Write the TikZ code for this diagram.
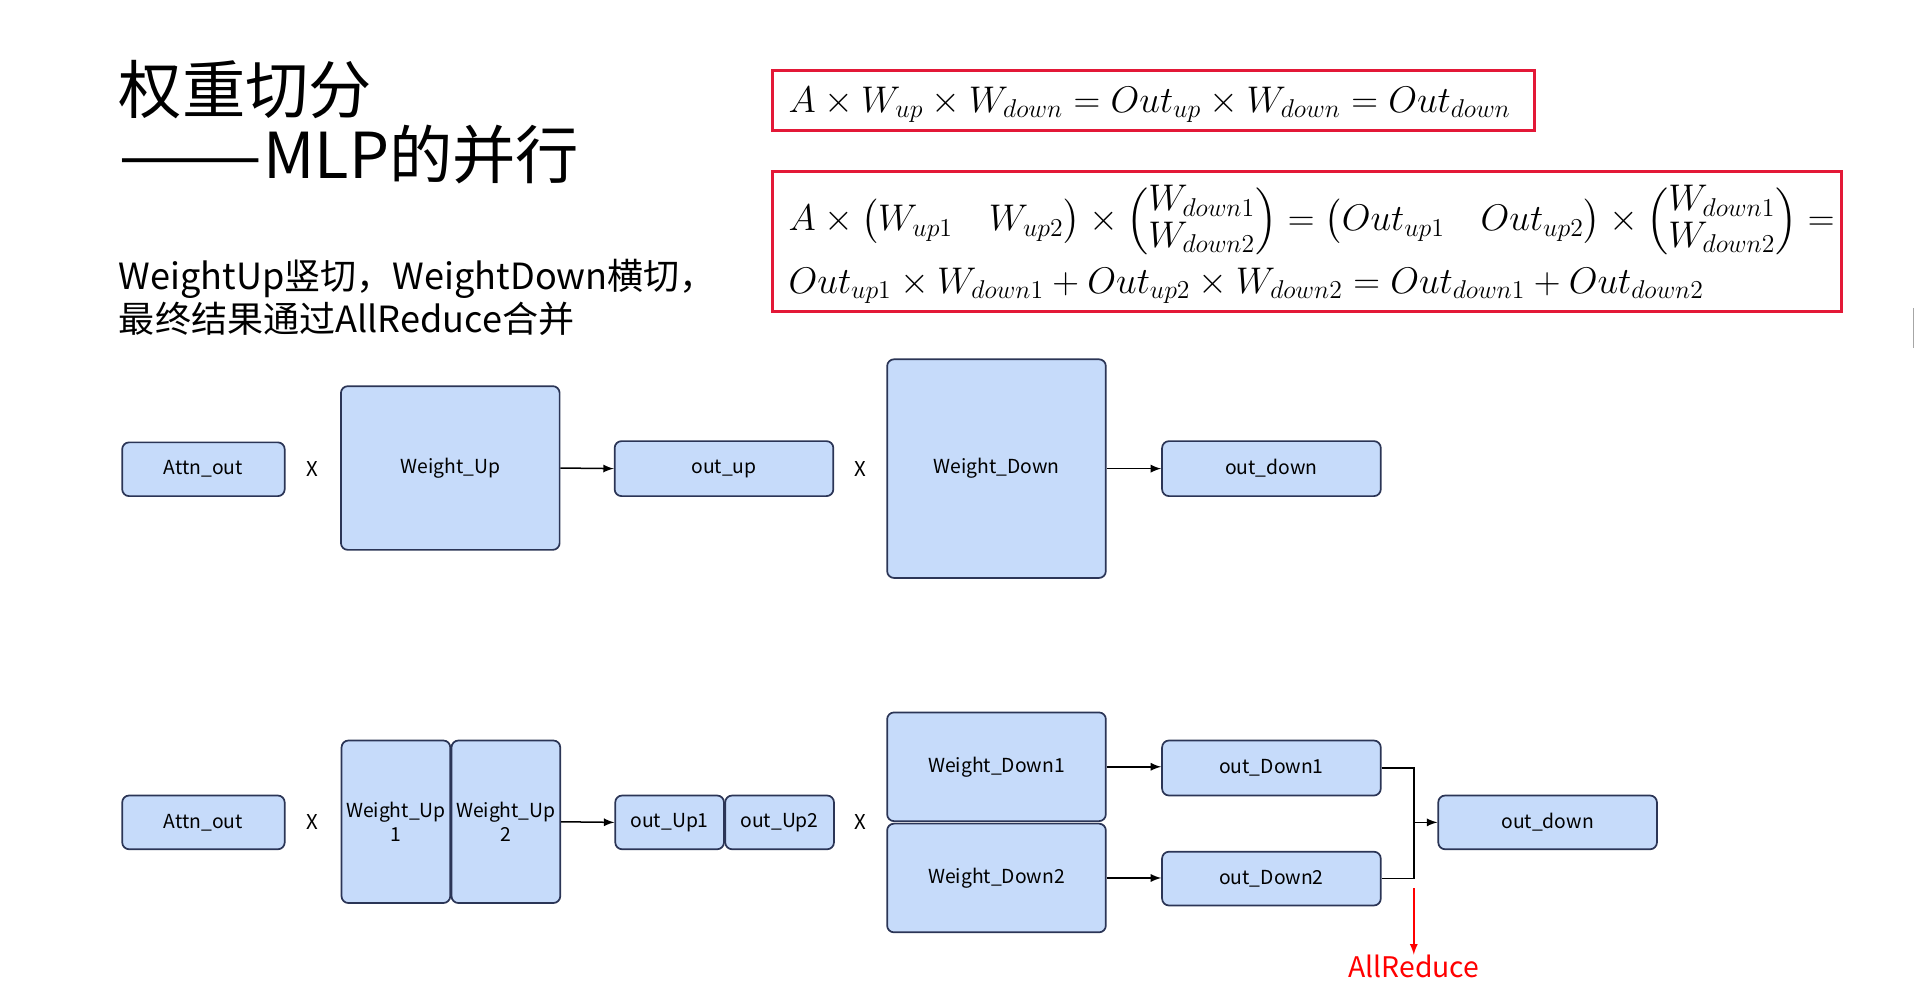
\documentclass[tikz,border=0pt]{standalone}
\usepackage{amsmath}
\usepackage{graphicx}
\usepackage[no-math]{fontspec}
\setmainfont{Noto Sans CJK SC}
\definecolor{boxfill}{HTML}{C6DBFA}
\definecolor{boxline}{HTML}{2B3556}
\definecolor{eqred}{HTML}{E31837}

\begin{document}
\begin{tikzpicture}[x=0.02cm,y=-0.02cm,>=latex,
  blk/.style={draw=boxline,fill=boxfill,rounded corners=3.2pt,line width=0.8pt,
    inner sep=0pt,align=center,font=\fontsize{9}{11}\selectfont},
  times/.style={font=\fontsize{9.5}{11.5}\selectfont},
  eqbox/.style={draw=eqred,line width=1.4pt},
  eqtxt/.style={anchor=base west,inner sep=0pt,font=\fontsize{17}{20}\selectfont}]
\useasboundingbox (0,0) rectangle (1568,806);

% title and remarks
\node[anchor=base west,inner sep=0pt,font=\fontsize{29.5}{31}\selectfont] (title1) at (97,93) {权重切分};
\node[anchor=base west,inner sep=0pt,font=\fontsize{29.5}{31}\selectfont] (title2) at (97,146) {\scalebox{1.36}[1]{——}MLP的并行};
\node[anchor=base west,inner sep=0pt,font=\fontsize{16.8}{20}\selectfont] (sub1) at (97,237) {WeightUp竖切，WeightDown横切，};
\node[anchor=base west,inner sep=0pt,font=\fontsize{16.8}{20}\selectfont] (sub2) at (97,272) {最终结果通过AllReduce合并};

% formulas
\draw[eqbox] (632,58) rectangle (1256,107);
\node[eqtxt] (eqa) at (645,92) {$A\times W_{up}\times W_{down}=Out_{up}\times W_{down}=Out_{down}$};
\draw[eqbox] (632,140) rectangle (1507,255);
\node[eqtxt,font=\fontsize{16.6}{20}\selectfont] (eqb) at (645,189) {\renewcommand{\arraystretch}{0.85}$A\times\bigl(W_{up1}\quad W_{up2}\bigr)\times\begin{pmatrix}W_{down1}\\W_{down2}\end{pmatrix}=\bigl(Out_{up1}\quad Out_{up2}\bigr)\times\begin{pmatrix}W_{down1}\\W_{down2}\end{pmatrix}=$};
\node[eqtxt,font=\fontsize{17.6}{20}\selectfont] (eqc) at (645,240) {$Out_{up1}\times W_{down1}+Out_{up2}\times W_{down2}=Out_{down1}+Out_{down2}$};
\draw[gray!70,line width=0.8pt] (1566,252) -- (1566,285);

% no split
\node[blk,minimum width=2.66cm,minimum height=0.88cm] (attn) at (166.5,384) {Attn\_out};
\node[times] (xa) at (256,384) {X};
\node[blk,minimum width=3.58cm,minimum height=2.68cm] (wup) at (368.5,383) {Weight\_Up};
\node[blk,minimum width=3.58cm,minimum height=0.9cm] (outup) at (592.5,383.5) {out\_up};
\node[times] (xb) at (704,384) {X};
\node[blk,minimum width=3.58cm,minimum height=3.58cm] (wdown) at (815.5,383.5) {Weight\_Down};
\node[blk,minimum width=3.58cm,minimum height=0.9cm] (outdown) at (1040.5,383.5) {out\_down};
\draw[->,line width=0.7pt] (wup.east) -- (outup.west);
\draw[->,line width=0.7pt] (wdown.east) -- (outdown.west);

% split
\node[blk,minimum width=2.66cm,minimum height=0.88cm] (attnb) at (166.5,673) {Attn\_out};
\node[times] (xc) at (256,673) {X};
\node[blk,minimum width=1.78cm,minimum height=2.66cm] (wupa) at (324,672.5) {Weight\_Up\\1};
\node[blk,minimum width=1.78cm,minimum height=2.66cm] (wupb) at (414,672.5) {Weight\_Up\\2};
\node[blk,minimum width=1.78cm,minimum height=0.88cm] (outupa) at (548,673) {out\_Up1};
\node[blk,minimum width=1.78cm,minimum height=0.88cm] (outupb) at (638,673) {out\_Up2};
\node[times] (xd) at (704,673) {X};
\node[blk,minimum width=3.58cm,minimum height=1.78cm] (wdowna) at (815.5,627.5) {Weight\_Down1};
\node[blk,minimum width=3.58cm,minimum height=1.78cm] (wdownb) at (815.5,718.5) {Weight\_Down2};
\node[blk,minimum width=3.58cm,minimum height=0.9cm] (outdowna) at (1040.5,628.5) {out\_Down1};
\node[blk,minimum width=3.58cm,minimum height=0.88cm] (outdownb) at (1040.5,719) {out\_Down2};
\node[blk,minimum width=3.58cm,minimum height=0.88cm] (outsum) at (1266.5,673) {out\_down};
\coordinate (merge) at (1157,673);
\coordinate (redtop) at (1157,727);
\node[text=red,inner sep=0pt,font=\fontsize{13.2}{15}\selectfont] (allred) at (1157,791) {AllReduce};

\draw[->,line width=0.7pt] (wupb.east) -- (outupa.west);
\draw[->,line width=0.7pt] (wdowna.east) -- (wdowna.east -| outdowna.west);
\draw[->,line width=0.7pt] (wdownb.east) -- (wdownb.east -| outdownb.west);
\draw[line width=0.7pt] (outdowna.east) -| (merge) |- (outdownb.east);
\draw[->,line width=0.7pt] (merge) -- (outsum.west);
\draw[->,red,line width=0.7pt] (redtop) -- (allred.north);
\end{tikzpicture}
\end{document}
